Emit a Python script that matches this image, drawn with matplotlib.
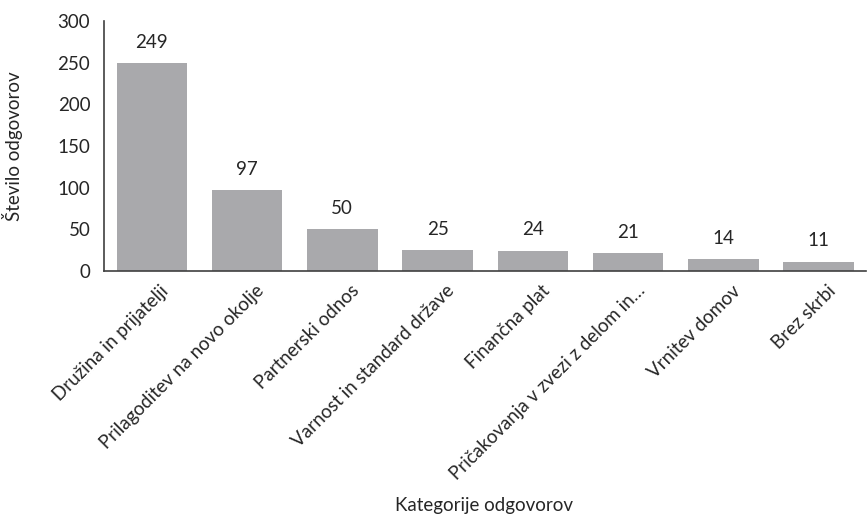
import matplotlib
matplotlib.use("Agg")
import matplotlib.pyplot as plt
import matplotlib.transforms as mtransforms

categories = ["Družina in prijatelji", "Prilagoditev na novo okolje", "Partnerski odnos",
              "Varnost in standard države", "Finančna plat", "Pričakovanja v zvezi z delom in…",
              "Vrnitev domov", "Brez skrbi"]
values = [249, 97, 50, 25, 24, 21, 14, 11]
yticks = [0, 50, 100, 150, 200, 250, 300]

plt.rcParams['font.family'] = ['Lato', 'DejaVu Sans']
fs = 13.5
fig = plt.figure(figsize=(8.68, 5.24), dpi=100)
ax = fig.add_axes([0.12, 0.483, 0.878, 0.477])
x = list(range(len(categories)))
ax.bar(x, values, width=0.74, color="#a9a9ac")
for xi, v in zip(x, values):
    ax.text(xi, v + 15, str(v), ha='center', va='bottom', fontsize=fs, color="#262626")
ax.set_xlim(-0.5, len(categories) - 0.5)
ax.set_ylim(0, 300)
ax.set_yticks(yticks)
ax.set_xticks(x)
ax.set_xticklabels(categories, rotation=45, ha='right', rotation_mode='anchor')
ax.tick_params(axis='both', length=0, labelsize=fs, colors="#262626")
ax.tick_params(axis='y', pad=10)
ax.tick_params(axis='x', pad=8)
offset = mtransforms.ScaledTranslation(8 / 100, 0, fig.dpi_scale_trans)
for lbl in ax.get_xticklabels():
    lbl.set_transform(lbl.get_transform() + offset)
for s in ['top', 'right']:
    ax.spines[s].set_visible(False)
for s in ['left', 'bottom']:
    ax.spines[s].set_color("#404040")
    ax.spines[s].set_linewidth(1.2)
ax.set_ylabel("Število odgovorov", fontsize=fs, color="#262626")
ax.yaxis.set_label_coords(-0.107, 0.5)
fig.text(0.558, 0.035, "Kategorije odgovorov", ha='center', va='center', fontsize=fs, color="#262626")
fig.savefig("out.png", dpi=100)
